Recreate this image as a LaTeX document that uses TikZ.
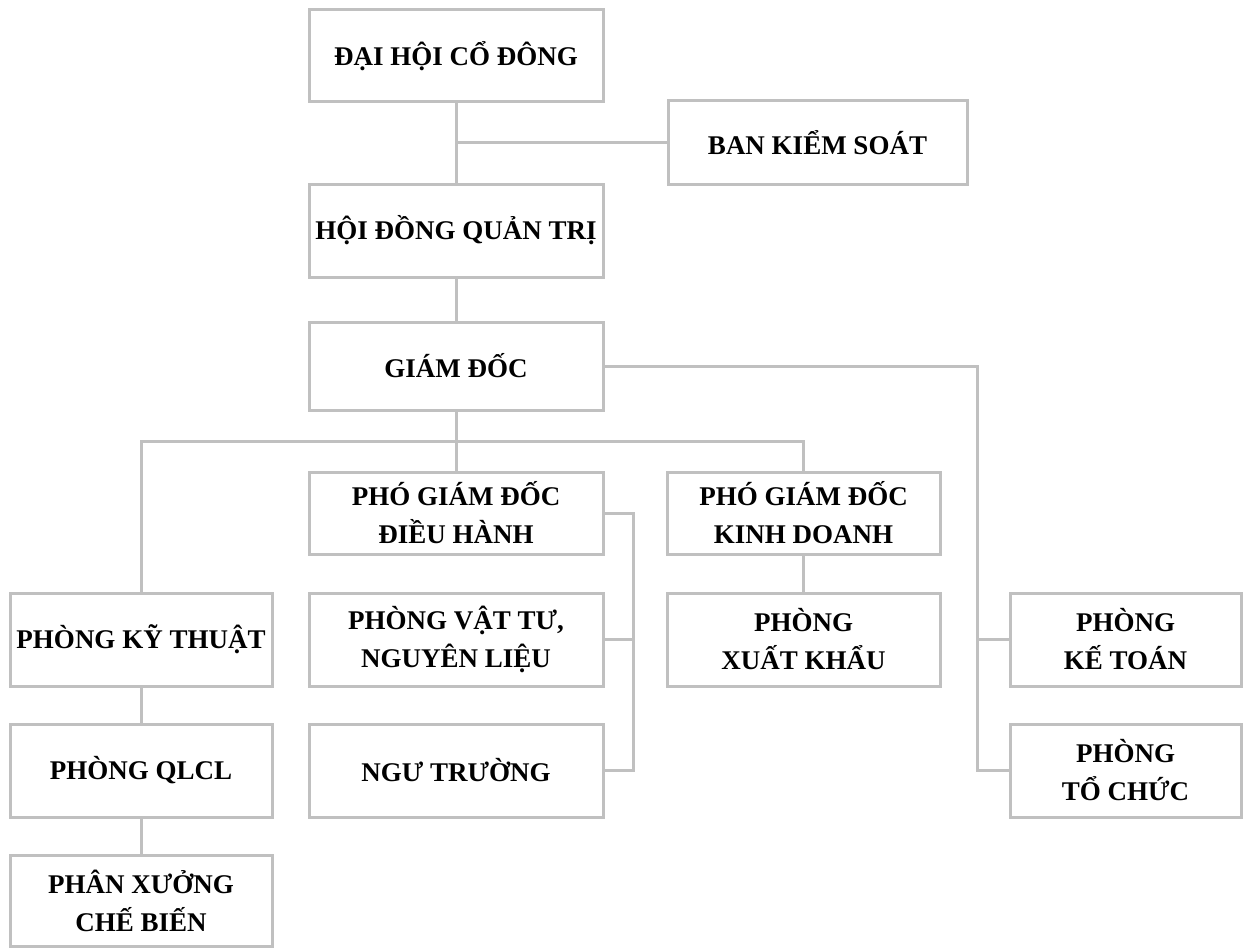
\documentclass[tikz,border=0pt]{standalone}
\usepackage{fontspec}
\setmainfont{Liberation Serif}
\definecolor{linegray}{RGB}{192,192,192}

\begin{document}
\begin{tikzpicture}[x=1pt,y=-1pt,
  box/.style={draw=linegray, line width=3pt, inner sep=0pt, align=center,
    font=\fontsize{27}{38}\selectfont\bfseries,
    minimum width=294pt, minimum height=92pt},
  link/.style={draw=linegray, line width=3pt}]
\useasboundingbox (0,0) rectangle (1246,947);

% Top levels
\node[box] (dhcd) at (456,56) {ĐẠI HỘI CỔ ĐÔNG};
\node[box, minimum width=299pt, minimum height=83pt] (bks) at (817.5,142.5) {BAN KIỂM SOÁT};
\node[box, minimum height=93pt] (hdqt) at (456,230.5) {HỘI ĐỒNG QUẢN TRỊ};
\node[box, minimum height=88pt] (gd) at (456,366) {GIÁM ĐỐC};

% Deputies
\node[box, minimum height=82pt] (pgddh) at (456,513) {PHÓ GIÁM ĐỐC\\ĐIỀU HÀNH};
\node[box, minimum width=273pt, minimum height=82pt] (pgdkd) at (803.5,513) {PHÓ GIÁM ĐỐC\\KINH DOANH};

% Departments
\node[box, minimum width=262pt, minimum height=93pt] (pkt) at (141,639.5) {PHÒNG KỸ THUẬT};
\node[box, minimum height=93pt] (pvt) at (456,639.5) {PHÒNG VẬT TƯ,\\NGUYÊN LIỆU};
\node[box, minimum width=273pt, minimum height=93pt] (pxk) at (803.5,639.5) {PHÒNG\\XUẤT KHẨU};
\node[box, minimum width=231pt, minimum height=93pt] (pkto) at (1125.5,639.5) {PHÒNG\\KẾ TOÁN};
\node[box, minimum width=262pt, minimum height=93pt] (pqlcl) at (141,770.5) {PHÒNG QLCL};
\node[box, minimum height=93pt] (nt) at (456,770.5) {NGƯ TRƯỜNG};
\node[box, minimum width=231pt, minimum height=93pt] (ptc) at (1125.5,770.5) {PHÒNG\\TỔ CHỨC};
\node[box, minimum width=262pt, minimum height=91pt] (pxcb) at (141,900.5) {PHÂN XƯỞNG\\CHẾ BIẾN};

% Bus points
\coordinate (bus) at (456,441);
\coordinate (rbus) at (977,366);
\coordinate (lbus) at (633,513);

% Connectors
\draw[link] (dhcd.south) -- (hdqt.north);
\draw[link] (dhcd.south |- bks.west) -- (bks.west);
\draw[link] (hdqt.south) -- (gd.north);
\draw[link] (gd.south) -- (pgddh.north);
\draw[link] (pkt.north) |- (bus) -| (pgdkd.north);
\draw[link] (gd.east) -- (rbus) |- (ptc.west);
\draw[link] (rbus |- pkto.west) -- (pkto.west);
\draw[link] (pgddh.east) -- (lbus) |- (nt.east);
\draw[link] (lbus |- pvt.east) -- (pvt.east);
\draw[link] (pgdkd.south) -- (pxk.north);
\draw[link] (pkt.south) -- (pqlcl.north);
\draw[link] (pqlcl.south) -- (pxcb.north);
\end{tikzpicture}
\end{document}
